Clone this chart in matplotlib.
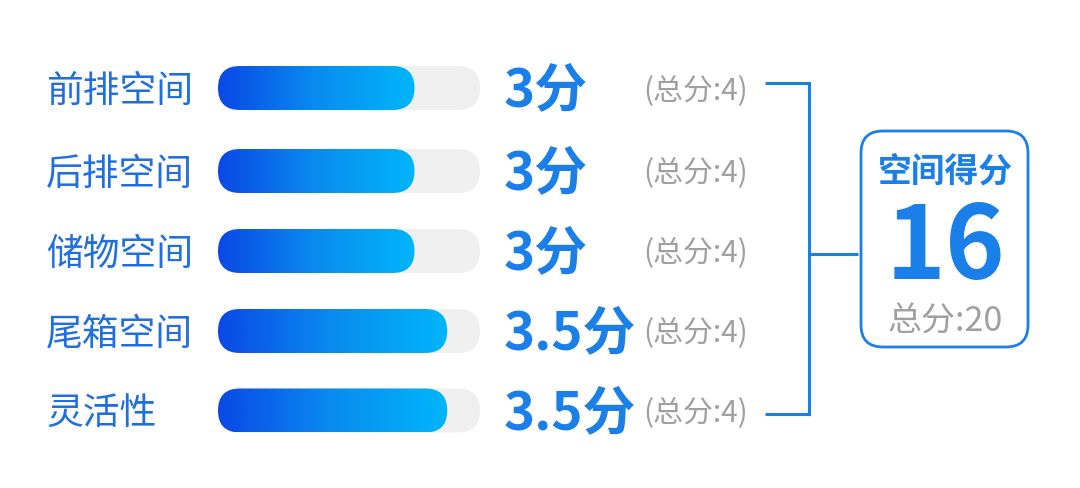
import numpy as np
import matplotlib
matplotlib.use("Agg")
import matplotlib.pyplot as plt
from matplotlib.patches import FancyBboxPatch
from matplotlib.colors import LinearSegmentedColormap

plt.rcParams['font.family'] = ['Noto Sans CJK SC', 'DejaVu Sans']

# 数据
categories = ["前排空间", "后排空间", "储物空间", "尾箱空间", "灵活性"]
scores = [3, 3, 3, 3.5, 3.5]
totals = [4, 4, 4, 4, 4]
total_title = "空间得分"
total_score = 16
total_max = 20

W, H = 1080, 488
BLUE = "#1a7fe8"
LABEL_BLUE = "#1f6fe0"
GRAY = "#a0a0a0"
TRACK = "#efefef"

fig = plt.figure(figsize=(W / 100, H / 100), dpi=100)
fig.patch.set_facecolor("white")

# 全图坐标轴（像素）
ax = fig.add_axes([0, 0, 1, 1])
ax.set_xlim(0, W)
ax.set_ylim(H, 0)
ax.axis("off")

# 进度条坐标轴：x 为分值，y 为像素
bx0, bw = 218, 262
bax = fig.add_axes([bx0 / W, 0, bw / W, 1])
bax.set_xlim(0, max(totals))
bax.set_ylim(H, 0)
bax.axis("off")

row_y = [88, 171, 251, 331, 410.5]
bar_h = 44
px_per_unit = bw / max(totals)
r = (bar_h / 2) / px_per_unit

cmap = LinearSegmentedColormap.from_list("g", ["#0a48e6", "#0a8cf0", "#00b6fa"])
grad = np.linspace(0, 1, 256).reshape(1, -1)

for y, s, t, name in zip(row_y, scores, totals, categories):
    track = FancyBboxPatch((0, y - bar_h / 2), t, bar_h,
                           boxstyle=f"round,pad=0,rounding_size={r}",
                           mutation_aspect=px_per_unit,
                           facecolor=TRACK, edgecolor="none")
    bax.add_patch(track)
    fill = FancyBboxPatch((0, y - bar_h / 2), s, bar_h,
                          boxstyle=f"round,pad=0,rounding_size={r}",
                          mutation_aspect=px_per_unit,
                          facecolor="none", edgecolor="none")
    bax.add_patch(fill)
    im = bax.imshow(grad, cmap=cmap, aspect="auto",
                    extent=(0, s, y + bar_h / 2, y - bar_h / 2), zorder=2)
    im.set_clip_path(fill)

    ax.text(46, y + 3, name, fontsize=26.5, color=LABEL_BLUE, va="center", ha="left")
    sv = f"{s:g}分"
    ax.text(504, y + 3, sv, fontsize=38, color=BLUE, fontweight="bold",
            va="center", ha="left")
    ax.text(643, y + 3, f"(总分:{t:g})", fontsize=21.5, color=GRAY,
            va="center", ha="left")

# 括号连线
lw = 2.2
top, bot = row_y[0] - 5, row_y[-1] + 3.5
mid = row_y[2] + 3
ax.plot([765, 809], [top, top], color=BLUE, lw=lw, solid_capstyle="butt")
ax.plot([765, 809], [bot, bot], color=BLUE, lw=lw, solid_capstyle="butt")
ax.plot([809, 809], [top, bot], color=BLUE, lw=lw, solid_capstyle="projecting")
ax.plot([809, 858], [mid, mid], color=BLUE, lw=lw, solid_capstyle="butt")

# 总分框
box = FancyBboxPatch((861, 131), 167, 216,
                     boxstyle="round,pad=0,rounding_size=22",
                     facecolor="white", edgecolor=BLUE, lw=2)
ax.add_patch(box)
cx = 945
ax.text(cx, 171, total_title, fontsize=24.3, color=BLUE, fontweight="bold",
        ha="center", va="center")
ax.text(cx, 249, f"{total_score}", fontsize=73, color=BLUE, fontweight="bold",
        ha="center", va="center")
ax.text(cx, 322, f"总分:{total_max}", fontsize=24.5, color=GRAY,
        ha="center", va="center")

fig.savefig("out.png", dpi=100, facecolor="white")
